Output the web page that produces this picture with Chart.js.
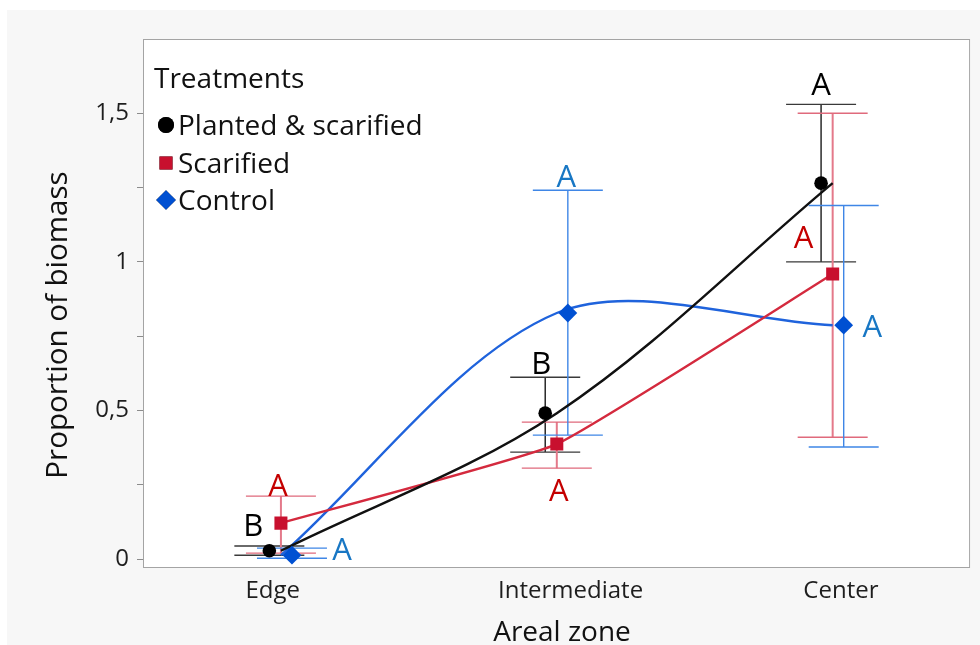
<!DOCTYPE html>
<html>
<head>
<meta charset="utf-8">
<title>Proportion of biomass by areal zone</title>
<script src="https://cdn.jsdelivr.net/npm/chart.js@4.4.1/dist/chart.umd.min.js"></script>
<style>
  html, body { margin: 0; padding: 0; background: #ffffff; }
  #wrap { width: 980px; height: 645px; }
</style>
</head>
<body>
<div id="wrap"><canvas id="chart" width="980" height="645"></canvas></div>
<script>
// Areal zones and where their labels sit on the x axis
const zones = ['Edge', 'Intermediate', 'Center'];
const zoneLabelAt = [-0.03, 1.05, 2.03];

// Y axis ticks (minor ticks carry no label)
const yTickValues = [0, 0.25, 0.5, 0.75, 1, 1.25, 1.5];
const yTickLabels = ['0', '', '0,5', '', '1', '', '1,5'];

// Treatment: Planted & scarified
const plantedMean = [0.028, 0.491, 1.265];
const plantedLow  = [0.013, 0.360, 1.000];
const plantedHigh = [0.044, 0.612, 1.530];
const plantedGroup = ['B', 'B', 'A'];

// Treatment: Scarified
const scarMean = [0.121, 0.387, 0.959];
const scarLow  = [0.020, 0.306, 0.410];
const scarHigh = [0.212, 0.461, 1.500];
const scarGroup = ['A', 'A', 'A'];

// Treatment: Control
const ctrlMean = [0.013, 0.828, 0.787];
const ctrlLow  = [0.003, 0.417, 0.377];
const ctrlHigh = [0.037, 1.241, 1.190];
const ctrlGroup = ['A', 'A', 'A'];

const FONT = "'Open Sans', 'Noto Sans', 'DejaVu Sans', sans-serif";

// Drawing styles per treatment; dodge shifts the marker sideways within a zone
const series = [
  { name: 'Planted & scarified', mean: plantedMean, low: plantedLow, high: plantedHigh, group: plantedGroup,
    dodge: -0.042, line: '#111111', marker: '#000000', bar: '#1a1a1a', cap: '#3a3a3a', letter: '#000000',
    style: 'circle', radius: 6.8, tension: 0.34,
    // letter anchor: which value, then offset (px) of the glyph centre
    spots: [['mean', -16, -26], ['high', -4, -14.5], ['high', 0, -20.5]] },
  { name: 'Scarified', mean: scarMean, low: scarLow, high: scarHigh, group: scarGroup,
    dodge: 0, line: '#d42a3e', marker: '#c8102e', bar: '#e4798a', cap: '#e06a7c', letter: '#c40000',
    style: 'rect', radius: 9.2, tension: 0.12,
    spots: [['high', -3, -11.5], ['low', 2, 22], ['mean', -29, -37]] },
  { name: 'Control', mean: ctrlMean, low: ctrlLow, high: ctrlHigh, group: ctrlGroup,
    dodge: 0.04, line: '#1f63dc', marker: '#0050d2', bar: '#3f86e6', cap: '#3f86e6', letter: '#1877c4',
    style: 'rectRot', radius: 9.4, tension: 0.32,
    spots: [['mean', 50, -6.5], ['high', -1.5, -14.5], ['mean', 28.5, 1]] }
];

// Smoothed connecting lines sit on the zone centres
const lineSets = series.map(s => ({
  type: 'line',
  label: s.name + ' line',
  data: s.mean.map((v, i) => ({ x: i, y: v })),
  borderColor: s.line,
  borderWidth: 2.4,
  tension: s.tension,
  pointRadius: 0,
  pointHoverRadius: 0,
  fill: false,
  order: 2
}));

// Mean markers, dodged per treatment
const markerSets = series.map(s => ({
  type: 'scatter',
  label: s.name,
  data: s.mean.map((v, i) => ({ x: i + s.dodge, y: v })),
  pointStyle: s.style,
  pointRadius: s.radius,
  pointHoverRadius: s.radius,
  backgroundColor: s.marker,
  borderColor: s.marker,
  borderWidth: 0,
  order: 1
}));

const framePlugin = {
  id: 'frame',
  beforeDraw(chart) {
    const { ctx, chartArea: a } = chart;
    ctx.save();
    ctx.fillStyle = '#ffffff';
    ctx.fillRect(0, 0, chart.width, chart.height);
    ctx.fillStyle = '#f7f7f7';
    ctx.fillRect(7, 10, chart.width - 7, chart.height - 10);
    ctx.fillStyle = '#ffffff';
    ctx.fillRect(a.left, a.top, a.right - a.left, a.bottom - a.top);
    ctx.restore();
  },
  afterDraw(chart) {
    const { ctx, chartArea: a } = chart;
    ctx.save();
    ctx.strokeStyle = '#a4a4a4';
    ctx.lineWidth = 1;
    ctx.strokeRect(a.left + 0.5, a.top + 0.5, a.right - a.left - 1.5, a.bottom - a.top - 1);

    // axis titles
    ctx.fillStyle = '#111111';
    ctx.font = '28px ' + FONT;
    ctx.textAlign = 'center';
    ctx.textBaseline = 'alphabetic';
    ctx.fillText('Areal zone', 562, 641);
    ctx.font = '29.5px ' + FONT;
    ctx.translate(67, 325);
    ctx.rotate(-Math.PI / 2);
    ctx.fillText('Proportion of biomass', 0, 0);
    ctx.restore();

    // legend inside the plot
    ctx.save();
    ctx.fillStyle = '#111111';
    ctx.font = '28px ' + FONT;
    ctx.textAlign = 'left';
    ctx.textBaseline = 'alphabetic';
    ctx.fillText('Treatments', 154, 88);
    const rows = [125, 163, 200];
    const legendRadius = { circle: 8, rect: 9.2, rectRot: 9.8 };
    series.forEach((s, k) => {
      Chart.helpers.drawPoint(ctx, {
        pointStyle: s.style, radius: legendRadius[s.style], rotation: 0, borderWidth: 0
      }, 166, rows[k]);
      ctx.fillStyle = s.marker;
      ctx.fill();
      ctx.fillStyle = '#111111';
      ctx.fillText(s.name, 178, rows[k] + 10);
    });
    ctx.restore();
  }
};

// Error bars under the markers, group letters above everything
const barsPlugin = {
  id: 'bars',
  beforeDatasetsDraw(chart) {
    const { ctx, scales: { x, y }, chartArea: a } = chart;
    ctx.save();
    ctx.beginPath();
    ctx.rect(a.left, a.top, a.right - a.left, a.bottom - a.top);
    ctx.clip();
    series.forEach(s => {
      s.mean.forEach((m, i) => {
        const px = x.getPixelForValue(i + s.dodge);
        const yl = y.getPixelForValue(s.low[i]);
        const yh = y.getPixelForValue(s.high[i]);
        ctx.strokeStyle = s.bar;
        ctx.lineWidth = s.style === 'rect' ? 2 : 1.4;
        ctx.beginPath();
        ctx.moveTo(px, yl);
        ctx.lineTo(px, yh);
        ctx.stroke();
        ctx.strokeStyle = s.cap;
        ctx.lineWidth = 1.4;
        ctx.beginPath();
        ctx.moveTo(px - 35, yl); ctx.lineTo(px + 35, yl);
        ctx.moveTo(px - 35, yh); ctx.lineTo(px + 35, yh);
        ctx.stroke();
      });
    });
    ctx.restore();
  },
  afterDatasetsDraw(chart) {
    const { ctx, scales: { x, y } } = chart;
    const size = 31;
    ctx.save();
    ctx.font = size + 'px ' + FONT;
    ctx.textAlign = 'center';
    ctx.textBaseline = 'alphabetic';
    series.forEach(s => {
      s.group.forEach((g, i) => {
        const [anchor, dx, dy] = s.spots[i];
        const px = x.getPixelForValue(i + s.dodge);
        const py = y.getPixelForValue(s[anchor][i]);
        ctx.fillStyle = s.letter;
        ctx.fillText(g, px + dx, py + dy + size * 0.357);
      });
    });
    ctx.restore();
  }
};

new Chart(document.getElementById('chart'), {
  data: { datasets: [...lineSets, ...markerSets] },
  options: {
    responsive: false,
    animation: false,
    devicePixelRatio: 1,
    layout: { padding: { top: 39, right: 0, left: 0, bottom: 0 } },
    plugins: { legend: { display: false }, tooltip: { enabled: false } },
    scales: {
      x: {
        type: 'linear',
        min: -0.5,
        max: 2.5,
        afterBuildTicks(scale) { scale.ticks = zoneLabelAt.map(v => ({ value: v })); },
        afterFit(scale) {
          scale.height = 77;
          scale.paddingLeft = 0;
          scale.paddingRight = 0;
        },
        grid: { display: false },
        border: { display: false },
        ticks: {
          autoSkip: false,
          maxRotation: 0,
          padding: 1,
          color: '#1e1e1e',
          font: { family: FONT, size: 24 },
          callback: (v, i) => zones[i]
        }
      },
      y: {
        type: 'linear',
        min: -0.03,
        max: 1.75,
        afterBuildTicks(scale) { scale.ticks = yTickValues.map(v => ({ value: v })); },
        afterFit(scale) {
          scale.width = 143;
          scale.paddingTop = 0;
          scale.paddingBottom = 0;
        },
        grid: { drawOnChartArea: false, drawTicks: true, tickLength: 6, color: '#8c8c8c' },
        border: { display: false },
        ticks: {
          autoSkip: false,
          padding: 8,
          color: '#1e1e1e',
          font: { family: FONT, size: 24 },
          callback: (v, i) => yTickLabels[i]
        }
      }
    }
  },
  plugins: [framePlugin, barsPlugin]
});
</script>
</body>
</html>
